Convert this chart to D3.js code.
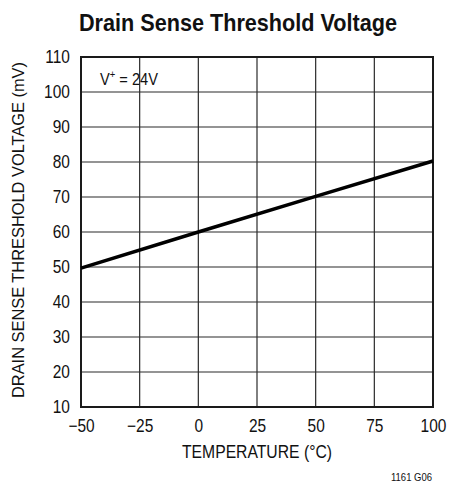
<!DOCTYPE html>
<html>
<head>
<meta charset="utf-8">
<script src="https://cdn.jsdelivr.net/npm/d3@7"></script>
<style>
  body { margin: 0; background: #fff; }
  text { font-family: "Liberation Sans", Arial, sans-serif; fill: #111; }
</style>
</head>
<body>
<svg id="chart" width="452" height="485"></svg>
<script>
// Data
const temps = [-50, 0, 50, 100];
const threshold_mv = [49.7, 60, 70.2, 80.3];
const x_ticks = [-50, -25, 0, 25, 50, 75, 100];
const y_ticks = [10, 20, 30, 40, 50, 60, 70, 80, 90, 100, 110];

const svg = d3.select('#chart');
const plot_left = 81, plot_right = 433, plot_top = 57, plot_bottom = 407;
const squeeze = 0.86; // fake a condensed face

const x = d3.scaleLinear().domain([-50, 100]).range([plot_left, plot_right]);
const y = d3.scaleLinear().domain([10, 110]).range([plot_bottom, plot_top]);

// grid
svg.append('g')
  .selectAll('line')
  .data(x_ticks.slice(1, -1))
  .join('line')
  .attr('x1', d => x(d)).attr('x2', d => x(d))
  .attr('y1', plot_top).attr('y2', plot_bottom)
  .attr('stroke', '#2a2a2a').attr('stroke-width', 1.2);

svg.append('g')
  .selectAll('line')
  .data(y_ticks.slice(1, -1))
  .join('line')
  .attr('x1', plot_left).attr('x2', plot_right)
  .attr('y1', d => y(d)).attr('y2', d => y(d))
  .attr('stroke', '#2a2a2a').attr('stroke-width', 1.2);

// frame
svg.append('rect')
  .attr('x', plot_left).attr('y', plot_top)
  .attr('width', plot_right - plot_left).attr('height', plot_bottom - plot_top)
  .attr('fill', 'none').attr('stroke', '#1a1a1a').attr('stroke-width', 2);

// axes (labels only)
const x_axis = svg.append('g')
  .attr('transform', `translate(0, ${plot_bottom})`)
  .call(d3.axisBottom(x).tickValues(x_ticks).tickSize(0).tickPadding(12)
    .tickFormat(d => d < 0 ? '\u2212' + Math.abs(d) : d));
x_axis.select('.domain').remove();
x_axis.selectAll('.tick text')
  .attr('font-size', 18).attr('fill', '#111')
  .attr('transform', `scale(${squeeze},1)`)
  .style('font-family', '"Liberation Sans", Arial, sans-serif');

const y_axis = svg.append('g')
  .attr('transform', `translate(${plot_left}, 0)`)
  .call(d3.axisLeft(y).tickValues(y_ticks).tickSize(0).tickPadding(13));
y_axis.select('.domain').remove();
y_axis.selectAll('.tick text')
  .attr('font-size', 18).attr('fill', '#111')
  .attr('transform', `scale(${squeeze},1)`)
  .style('font-family', '"Liberation Sans", Arial, sans-serif');

// curve
const line = d3.line().x((d, i) => x(temps[i])).y(d => y(d));
svg.append('path')
  .datum(threshold_mv)
  .attr('d', line)
  .attr('fill', 'none').attr('stroke', '#000').attr('stroke-width', 3.5);

// texts
svg.append('text')
  .attr('x', 79).attr('y', 31)
  .attr('font-size', 24).attr('font-weight', 'bold')
  .attr('textLength', 318).attr('lengthAdjust', 'spacingAndGlyphs')
  .text('Drain Sense Threshold Voltage');

svg.append('text')
  .attr('x', 182).attr('y', 458)
  .attr('font-size', 18)
  .attr('textLength', 150).attr('lengthAdjust', 'spacingAndGlyphs')
  .text('TEMPERATURE (\u00B0C)');

svg.append('text')
  .attr('transform', `translate(24, 398) rotate(-90)`)
  .attr('font-size', 17)
  .attr('textLength', 336).attr('lengthAdjust', 'spacingAndGlyphs')
  .text('DRAIN SENSE THRESHOLD VOLTAGE (mV)');

const vlabel = svg.append('text')
  .attr('x', 100).attr('y', 85)
  .attr('font-size', 17)
  .attr('transform', `translate(${100 * (1 - squeeze)},0) scale(${squeeze},1)`);
vlabel.append('tspan').text('V');
vlabel.append('tspan').attr('dy', -7).attr('font-size', 11).text('+');
vlabel.append('tspan').attr('dy', 7).text(' = 24V');

svg.append('text')
  .attr('x', 391).attr('y', 481)
  .attr('font-size', 10)
  .attr('textLength', 41).attr('lengthAdjust', 'spacingAndGlyphs')
  .text('1161 G06');
</script>
</body>
</html>
